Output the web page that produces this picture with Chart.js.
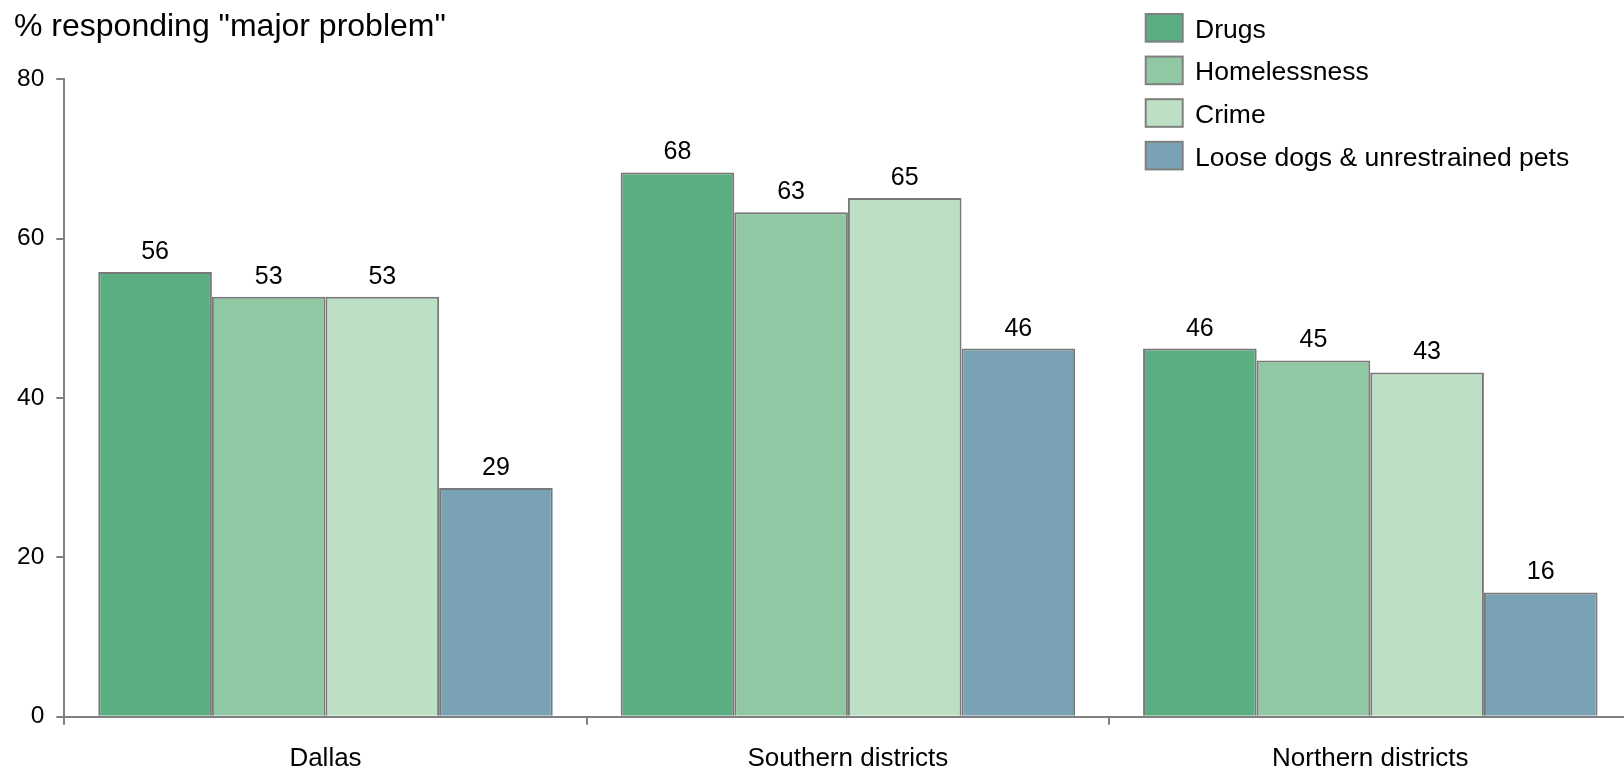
<!DOCTYPE html>
<html><head><meta charset="utf-8">
<script src="https://cdn.jsdelivr.net/npm/chart.js@4/dist/chart.umd.min.js"></script>
<style>html,body{margin:0;padding:0;background:#fff;overflow:hidden}#wrap{position:relative;width:1640px;height:771px}</style>
</head><body><div id="wrap"><canvas id="c"></canvas></div>
<script>
const categories = ['Dallas', 'Southern districts', 'Northern districts'];
const seriesNames = ['Drugs', 'Homelessness', 'Crime', 'Loose dogs & unrestrained pets'];
const drugs = [55.8, 68.3, 46.2];
const homelessness = [52.7, 63.3, 44.7];
const crime = [52.7, 65.1, 43.2];
const looseDogs = [28.7, 46.2, 15.6];
const yTicks = [0, 20, 40, 60, 80];
const titleText = '% responding "major problem"';

const FONT = '"Liberation Sans", Arial, Helvetica, sans-serif';
const colors = ['#5aae82', '#8fc8a2', '#bddfc4', '#79a3b4'];
const seriesValues = [drugs, homelessness, crime, looseDogs];

const datasets = seriesNames.map((name, i) => ({
  label: name,
  data: seriesValues[i],
  backgroundColor: colors[i],
  borderColor: '#787878',
  borderWidth: 2,
  barPercentage: 1.0,
  categoryPercentage: 0.87
}));

const valueLabels = {
  id: 'valueLabels',
  afterDatasetsDraw(chart) {
    const ctx = chart.ctx;
    ctx.save();
    ctx.font = '25px ' + FONT;
    ctx.fillStyle = '#000';
    ctx.textAlign = 'center';
    ctx.textBaseline = 'alphabetic';
    chart.data.datasets.forEach((ds, di) => {
      const meta = chart.getDatasetMeta(di);
      meta.data.forEach((bar, i) => {
        ctx.fillText(String(Math.round(ds.data[i])), bar.x, bar.y - 13);
      });
    });
    ctx.restore();
  }
};

const sideLegend = {
  id: 'sideLegend',
  afterDraw(chart) {
    const ctx = chart.ctx;
    ctx.save();
    ctx.font = '26.5px ' + FONT;
    ctx.textBaseline = 'alphabetic';
    ctx.textAlign = 'left';
    chart.data.datasets.forEach((ds, i) => {
      const top = 13.3 + i * 42.6;
      ctx.fillStyle = ds.backgroundColor;
      ctx.fillRect(1145, top, 38, 29);
      ctx.strokeStyle = '#808080';
      ctx.lineWidth = 2;
      ctx.strokeRect(1145.7, top + 0.7, 37, 27.6);
      ctx.fillStyle = '#000';
      ctx.fillText(ds.label, 1195, top + 24.4);
    });
    ctx.restore();
  }
};

new Chart(document.getElementById('c'), {
  type: 'bar',
  data: { labels: categories, datasets: datasets },
  options: {
    responsive: true,
    maintainAspectRatio: false,
    animation: false,
    layout: { padding: { left: 14, right: 8.5, top: 0, bottom: 0 } },
    plugins: {
      legend: { display: false },
      tooltip: { enabled: false },
      title: {
        display: true,
        text: titleText,
        align: 'start',
        color: '#000',
        font: { size: 32, weight: 'normal', family: FONT },
        padding: { top: 8, bottom: 32.8 }
      }
    },
    scales: {
      x: {
        grid: { display: true, drawOnChartArea: false, tickLength: 8, color: '#808080', lineWidth: 2, offset: true },
        border: { color: '#808080', width: 2 },
        ticks: { color: '#000', font: { size: 26, family: FONT }, padding: 19, maxRotation: 0 },
        afterFit(s) { s.height = 54.3; }
      },
      y: {
        min: 0, max: 80,
        afterBuildTicks(s) { s.ticks = yTicks.map(v => ({ value: v })); },
        grid: { drawOnChartArea: false, tickLength: 8, color: '#808080', lineWidth: 2 },
        border: { color: '#808080', width: 2 },
        ticks: { color: '#000', font: { size: 24.5, family: FONT }, padding: 12 },
        afterFit(s) { s.width = 50.3; }
      }
    }
  },
  plugins: [valueLabels, sideLegend]
});
</script>
</body></html>
